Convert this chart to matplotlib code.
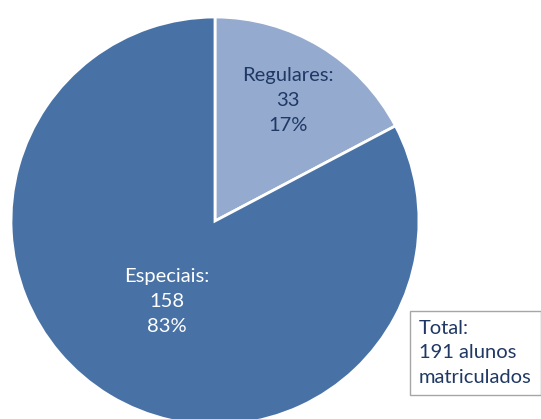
import numpy as np
import matplotlib.pyplot as plt

categorias = ["Regulares", "Especiais"]
alunos = [33, 158]
cores = ["#95AACF", "#4872A6"]
cores_texto = ["#1F3864", "white"]
dist_rotulo = [0.69, 0.46]

total = sum(alunos)

fig = plt.figure(figsize=(5.41, 4.19), dpi=100)
ax = fig.add_axes([0, 0, 1, 1])

centro = (215, 198)
raio = 204
wedges, _ = ax.pie(alunos, colors=cores, startangle=90, counterclock=False,
                   center=centro, radius=raio, frame=True,
                   wedgeprops=dict(edgecolor="white", linewidth=2))
ax.set_xlim(0, 541)
ax.set_ylim(0, 419)
ax.set_aspect("equal")
ax.axis("off")

for w, cat, n, c, d in zip(wedges, categorias, alunos, cores_texto, dist_rotulo):
    ang = np.deg2rad((w.theta1 + w.theta2) / 2)
    x = centro[0] + d * raio * np.cos(ang)
    y = centro[1] + d * raio * np.sin(ang)
    pct = round(100 * n / total)
    ax.text(x, y, f"{cat}:\n{n}\n{pct}%", ha="center", va="center",
            color=c, fontsize=14.5, family="Lato", linespacing=1.55)

ax.text(419, 419 - 353, f"Total:\n{total} alunos\nmatriculados", ha="left", va="center",
        color="#1F3864", fontsize=14.5, family="Lato", linespacing=1.55,
        bbox=dict(boxstyle="square,pad=0.45", facecolor="white", edgecolor="#A6A6A6"))

fig.savefig("out.png", dpi=100)
